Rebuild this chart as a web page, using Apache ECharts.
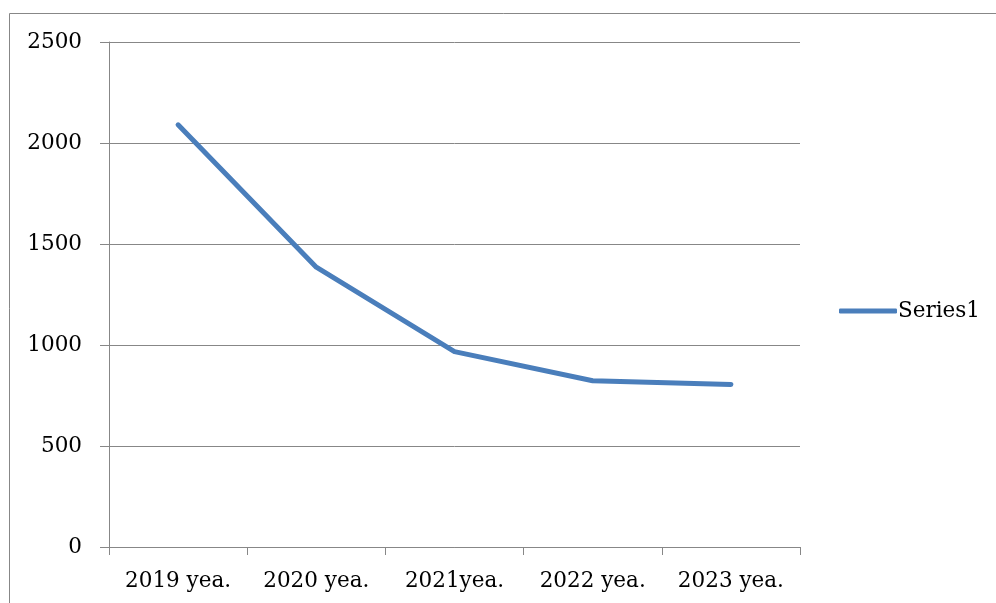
<!DOCTYPE html>
<html>
<head>
<meta charset="utf-8">
<script src="https://cdn.jsdelivr.net/npm/echarts@6/dist/echarts.min.js"></script>
<style>
html,body{margin:0;padding:0;background:#fff;}
#c{width:996px;height:603px;}
</style>
</head>
<body>
<div id="c"></div>
<script>
const categories = ['2019 yea.', '2020 yea.', '2021yea.', '2022 yea.', '2023 yea.'];
const series1 = [2090, 1385, 967, 823, 805];
const seriesName = 'Series1';

const chart = echarts.init(document.getElementById('c'), null, {renderer: 'canvas'});
const font = 'DejaVu Serif';
chart.setOption({
  animation: false,
  backgroundColor: '#ffffff',
  graphic: [{
    type: 'rect',
    shape: {x: 9.5, y: 13.5, width: 2000, height: 2000},
    style: {fill: 'none', stroke: '#878787', lineWidth: 1},
    silent: true
  }],
  grid: {left: 109, top: 42, width: 691, height: 505},
  legend: {
    show: true,
    orient: 'horizontal',
    left: 839, top: 300,
    itemWidth: 58, itemHeight: 5, itemGap: 0,
    icon: 'roundRect',
    padding: 0,
    textStyle: {fontFamily: font, fontSize: 21.5, color: '#000', padding: [0,0,0,-4]}
  },
  xAxis: {
    type: 'category',
    data: categories,
    boundaryGap: true,
    axisLine: {lineStyle: {color: '#878787', width: 1}},
    axisTick: {show: true, length: 8, alignWithLabel: false, lineStyle: {color: '#878787'}},
    axisLabel: {fontFamily: font, fontSize: 21.5, color: '#000', margin: 23, interval: 0},
    splitLine: {show: false}
  },
  yAxis: {
    type: 'value',
    min: 0, max: 2500, interval: 500,
    axisLine: {show: true, lineStyle: {color: '#878787', width: 1}},
    axisTick: {show: true, length: 9, lineStyle: {color: '#878787'}},
    axisLabel: {fontFamily: font, fontSize: 21.5, color: '#000', margin: 27, formatter: v => String(v)},
    splitLine: {show: true, lineStyle: {color: '#878787', width: 1}}
  },
  series: [{
    name: seriesName,
    type: 'line',
    data: series1,
    symbol: 'none',
    lineStyle: {color: '#4a7ebb', width: 5, cap: 'round', join: 'round'},
    itemStyle: {color: '#4a7ebb'}
  }]
});
</script>
</body>
</html>
